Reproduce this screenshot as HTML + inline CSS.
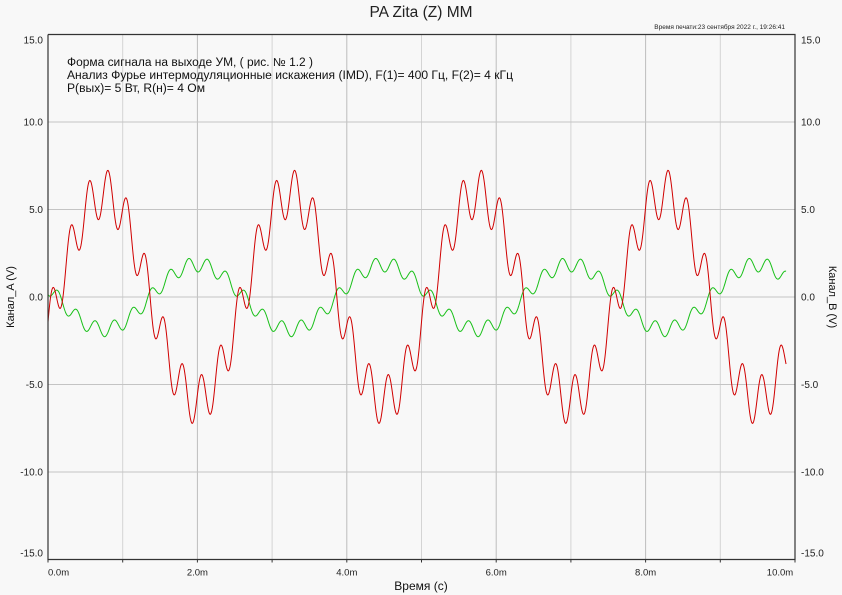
<!DOCTYPE html>
<html><head><meta charset="utf-8"><style>
html,body{margin:0;padding:0;background:#f8f8f8;}
svg{display:block;font-family:"Liberation Sans",sans-serif;}
</style></head><body>
<svg id="chart" width="842" height="595" viewBox="0 0 842 595" xmlns="http://www.w3.org/2000/svg">
<rect x="0" y="0" width="842" height="595" fill="#f8f8f8"/>
<text x="421" y="17" text-anchor="middle" font-size="15.5" fill="#222">PA Zita (Z) MM</text>
<text x="785" y="29" text-anchor="end" font-size="6.5" fill="#222">Время печати:23 сентября 2022 г., 19:26:41</text>
<g id="grid"></g>
<g id="series"></g>
<g id="axes"></g>
<g font-size="11.5" fill="#111">
<text x="67" y="66" textLength="246" lengthAdjust="spacingAndGlyphs">Форма сигнала на выходе УМ, ( рис. № 1.2 )</text>
<text x="67" y="79" textLength="446" lengthAdjust="spacingAndGlyphs">Анализ Фурье интермодуляционные искажения (IMD), F(1)= 400 Гц, F(2)= 4 кГц</text>
<text x="67" y="92" textLength="138" lengthAdjust="spacingAndGlyphs">P(вых)= 5 Вт, R(н)= 4 Ом</text>
</g>
<text x="421" y="590" text-anchor="middle" font-size="12" fill="#111">Время (с)</text>
<text transform="translate(14,297) rotate(-90)" text-anchor="middle" font-size="11" fill="#111">Канал_A (V)</text>
<text transform="translate(829,297) rotate(90)" text-anchor="middle" font-size="11" fill="#111">Канал_B (V)</text>
</svg>
<script>
// data
const xTicks = [0,1,2,3,4,5,6,7,8,9,10];
const xTickLabels = ["0.0m","","2.0m","","4.0m","","6.0m","","8.0m","","10.0m"];
const yTicks = [-15,-10,-5,0,5,10,15];
const yTickLabels = ["-15.0","-10.0","-5.0","0.0","5.0","10.0","15.0"];
const tEnd = 9.88; // ms, end of simulated data
// Fourier components: frequency (Hz), amplitude (V), phase (rad)
const redFreqs = [400,4000];
const redAmps = [5.9,1.4];
const redPhases = [-0.3,0.23];
const greenFreqs = [400,4000];
const greenAmps = [-1.85,0.42];
const greenPhases = [-0.3,-1.79];

const L=48,R=795,T=34.5,B=559.5;
const xS = ms => L + (ms/10)*(R-L);
const yS = v => T + (15-v)/30*(B-T);
const NS="http://www.w3.org/2000/svg";
function mk(tag,attrs,parent){const e=document.createElementNS(NS,tag);for(const k in attrs)e.setAttribute(k,attrs[k]);parent.appendChild(e);return e;}
const grid=document.getElementById('grid'),axes=document.getElementById('axes'),series=document.getElementById('series');
xTicks.forEach((t,i)=>{
  if(i>0&&i<xTicks.length-1){const l=mk('line',{x1:xS(t),x2:xS(t),y1:T,y2:B,stroke:i%2?'#d4d4d4':'#bdbdbd','stroke-width':1},grid);
  
  }
  const tk=mk('line',{x1:xS(t),x2:xS(t),y1:B,y2:B+3,stroke:'#333'},axes);
  
  
  if(xTickLabels[i]){const tx=mk('text',{x:xS(t),y:B+16,'text-anchor':i===0?'start':'middle','font-size':9.5,fill:'#222'},axes);tx.textContent=xTickLabels[i];
  if(i===xTicks.length-1)tx.setAttribute('x',xS(t)-15);
  
  }
});
yTicks.forEach((v,i)=>{
  if(v>-15&&v<15){const l=mk('line',{x1:L,x2:R,y1:yS(v),y2:yS(v),stroke:'#c4c4c4','stroke-width':1},grid);
  
  }
  let dy = v===15?9:(v===-15?-3:3.5);
  const a=mk('text',{x:L-5,y:yS(v)+dy,'text-anchor':'end','font-size':10,fill:'#222'},axes);a.textContent=yTickLabels[i];
  
  
  const b=mk('text',{x:R+6,y:yS(v)+dy,'text-anchor':'start','font-size':10,fill:'#222'},axes);b.textContent=yTickLabels[i];
  
  
});
const frame=mk('path',{d:`M${L},${T}V${B}H${R}V${T}H${L}`,fill:'none',stroke:'#333','stroke-width':1.2},axes);


function wave(f,a,p,t){let s=0;for(let k=0;k<f.length;k++)s+=a[k]*Math.sin(2*Math.PI*f[k]*t/1000+p[k]);return s;}
function draw(f,a,p,color,name){
  let d='';const N=1500;
  for(let i=0;i<=N;i++){const t=tEnd*i/N;d+=(i?'L':'M')+xS(t).toFixed(2)+','+yS(wave(f,a,p,t)).toFixed(2);}
  const e=mk('path',{d:d,fill:'none',stroke:color,'stroke-width':1},series);
  
  
}
draw(greenFreqs,greenAmps,greenPhases,'#19c019','channel-b-line');
draw(redFreqs,redAmps,redPhases,'#d00000','channel-a-line');
</script>
</body></html>
